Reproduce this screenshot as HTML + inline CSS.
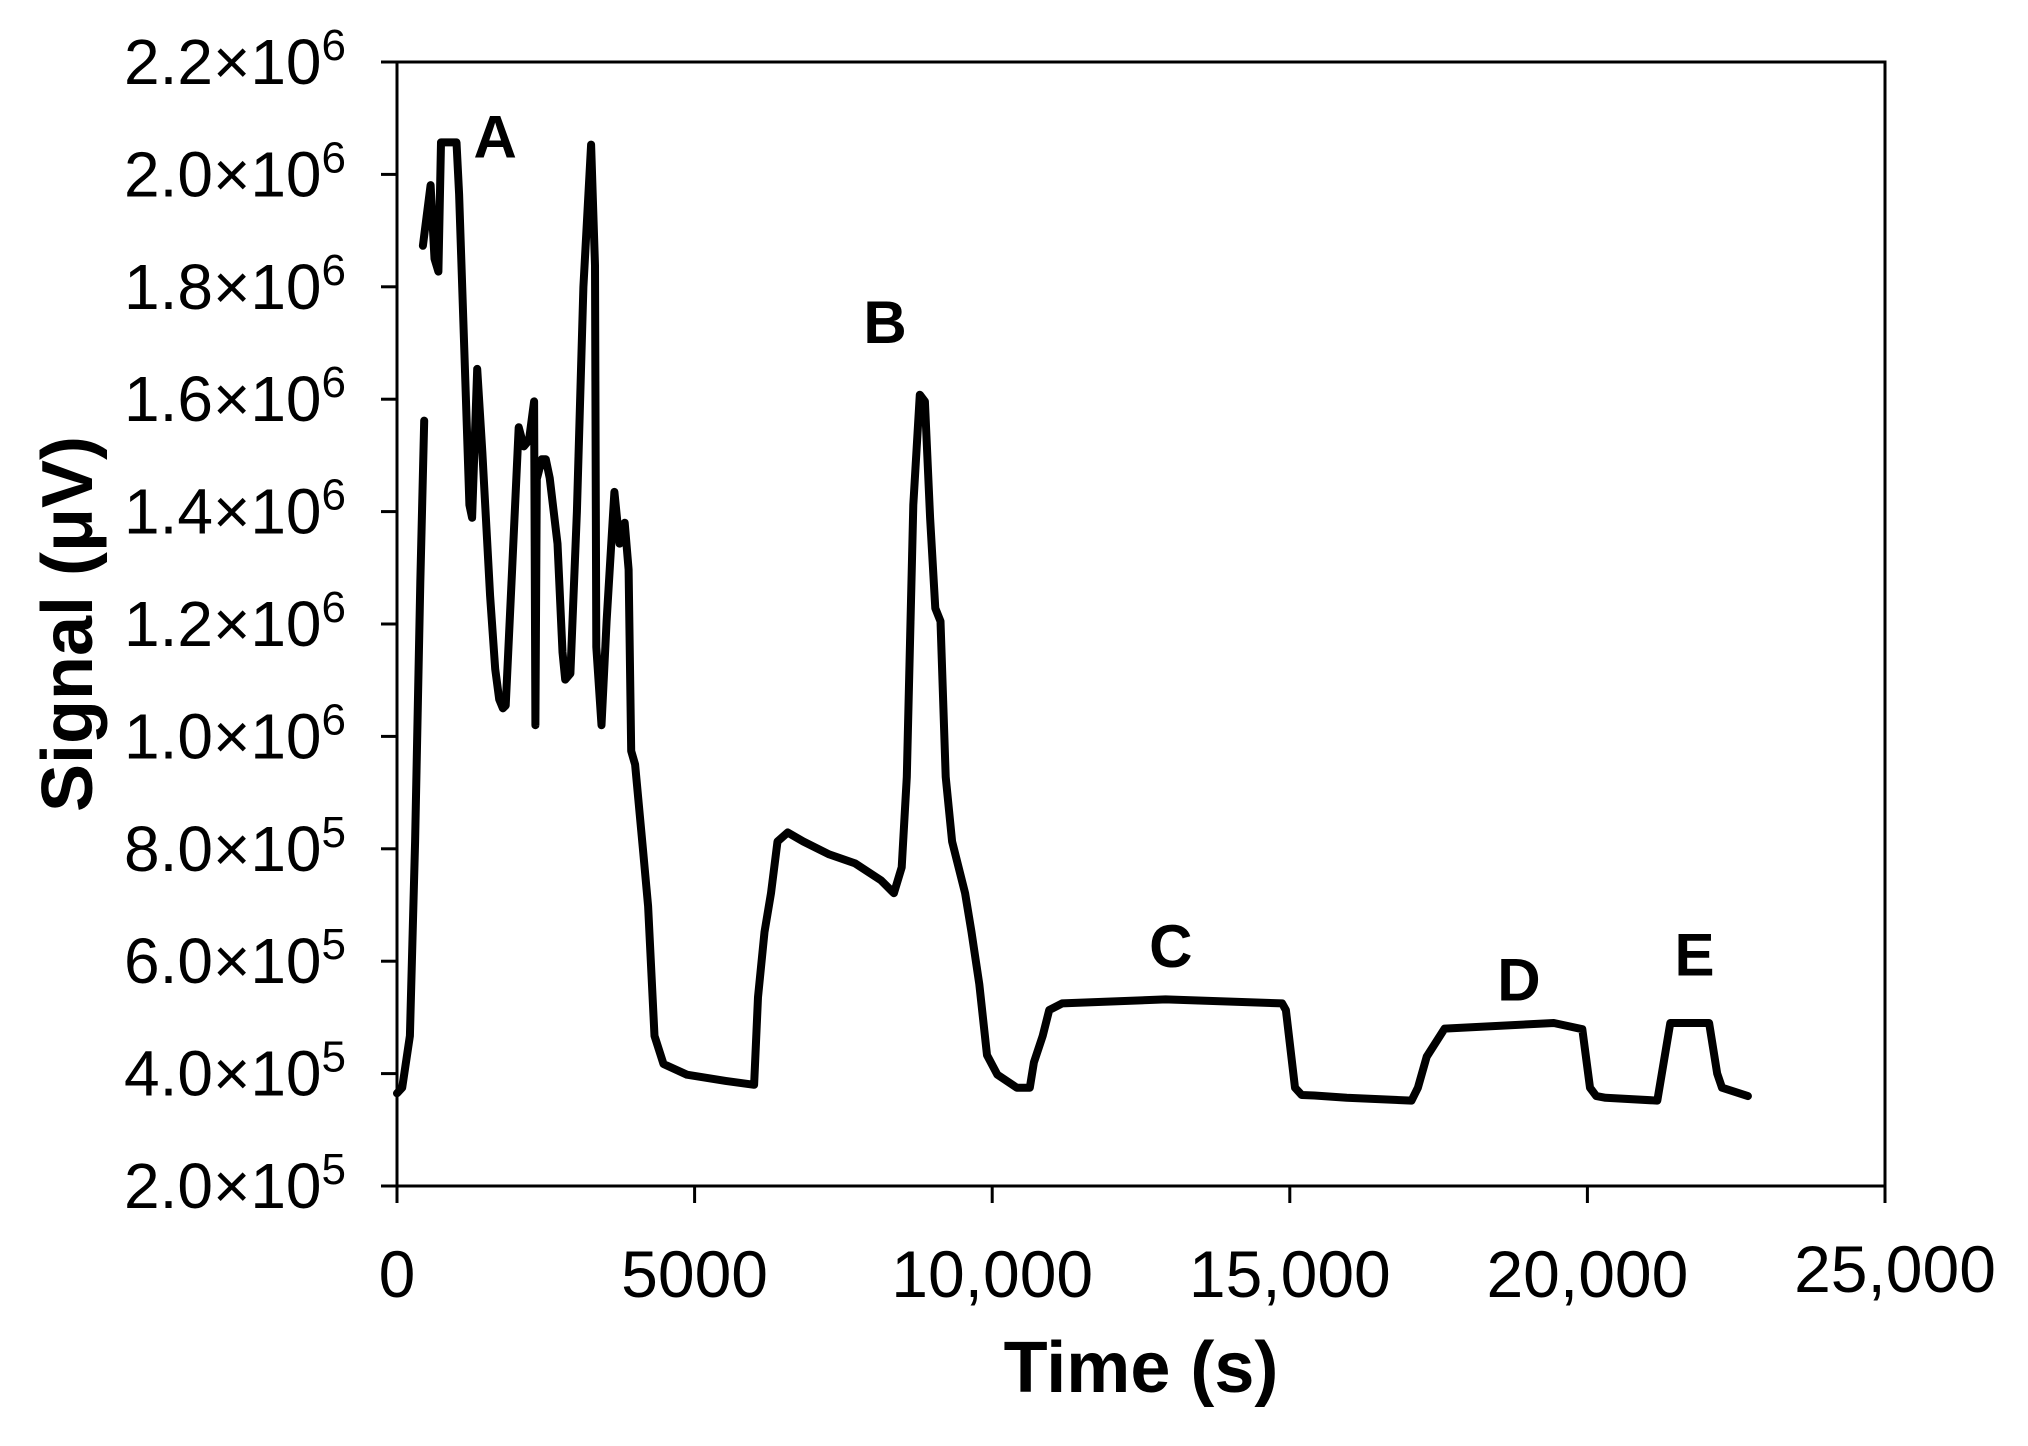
<!DOCTYPE html>
<html><head><meta charset="utf-8"><style>
html,body{margin:0;padding:0;background:#fff;}
svg{display:block;font-family:"Liberation Sans",Arial,sans-serif;}
</style></head><body>
<svg id="chart" width="2028" height="1446" viewBox="0 0 2028 1446" xmlns="http://www.w3.org/2000/svg">
<rect width="2028" height="1446" fill="#fff"/>
<g id="plot"></g>
</svg>
<script>
const xTicks = [0, 5000, 10000, 15000, 20000, 25000];
const xTickLabels = ["0", "5000", "10,000", "15,000", "20,000", "25,000"];
const yTicks = [2, 4, 6, 8, 10, 12, 14, 16, 18, 20, 22];
const yTickMant = ["2.0","4.0","6.0","8.0","1.0","1.2","1.4","1.6","1.8","2.0","2.2"];
const yTickExp = ["5","5","5","5","6","6","6","6","6","6","6"];
// time (s)
const times1 = [0, 87, 217, 304, 391, 457];
const signal1 = [3.65, 3.75, 4.67, 8.13, 12.74, 15.62];
const times2 = [435,565,630,696,739,1000,1044,1130,1217,1261,1348,1435,1565,1650,1717,1780,1826,1935,2044,2131,2217,2304,2326,2348,2435,2500,2565,2696,2780,2826,2913,3022,3131,3261,3326,3348,3435,3522,3652,3739,3826,3891,3935,4000,4131,4218,4326,4478,4870,5522,6000,6065,6174,6283,6392,6565,6826,7261,7696,8131,8348,8479,8566,8674,8783,8870,8957,9044,9131,9218,9326,9544,9653,9783,9913,10087,10413,10631,10700,10848,10957,11174,12914,14870,14935,15088,15200,15414,15957,17044,17153,17300,17600,19436,19914,20044,20150,20305,21175,21392,21544,22044,22180,22262,22697];
const signal2 = [18.73,19.81,18.5,18.27,20.57,20.57,19.65,16.88,14.12,13.89,16.54,15.04,12.5,11.2,10.66,10.5,10.55,13.0,15.5,15.16,15.27,15.96,10.2,14.58,14.93,14.93,14.6,13.43,11.5,11.01,11.12,14.0,18.0,20.53,18.38,11.59,10.2,12.05,14.35,13.43,13.8,12.97,9.74,9.5,8.0,6.98,4.67,4.17,3.98,3.87,3.8,5.36,6.52,7.21,8.13,8.29,8.13,7.9,7.74,7.44,7.21,7.67,9.28,14.12,16.08,15.96,13.89,12.28,12.05,9.28,8.13,7.21,6.52,5.59,4.33,3.98,3.75,3.75,4.2,4.67,5.13,5.25,5.32,5.25,5.13,3.75,3.62,3.61,3.57,3.52,3.75,4.3,4.8,4.9,4.79,3.75,3.6,3.57,3.52,4.9,4.9,4.9,4.0,3.75,3.6];
const letterNames = ["A","B","C","D","E"];
const letterT = [1650, 8200, 13000, 18850, 21800];
const letterV = [20.3, 17.0, 5.9, 5.3, 5.75];

const X0=397, X1=1885, Y0=1186, Y1=62;
const xs = t => X0 + (t-0)/25000*(X1-X0);
const ys = v => Y0 - (v-2)/20*(Y0-Y1);
const NS="http://www.w3.org/2000/svg";
const g=document.getElementById('plot');
function mk(tag,attrs,parent){const e=document.createElementNS(NS,tag);for(const k in attrs)e.setAttribute(k,attrs[k]);(parent||g).appendChild(e);return e;}

const frame=mk('rect',{x:X0,y:Y1,width:X1-X0,height:Y0-Y1,fill:'none',stroke:'#000','stroke-width':3});



xTicks.forEach((t,i)=>{
  const tk=mk('line',{x1:xs(t),x2:xs(t),y1:Y0,y2:Y0+17,stroke:'#000','stroke-width':3});
  
  
  const last=i===xTicks.length-1;
  const lb=mk('text',{x:xs(t)+(last?10:0),y:last?1292:1297,'text-anchor':'middle','font-size':66});
  lb.textContent=xTickLabels[i];
  
  
});
yTicks.forEach((v,i)=>{
  const tk=mk('line',{x1:X0-16,x2:X0,y1:ys(v),y2:ys(v),stroke:'#000','stroke-width':3});
  
  
  const lb=mk('text',{x:346,y:ys(v)+22,'text-anchor':'end','font-size':64});
  
  
  const a=document.createElementNS(NS,'tspan');a.textContent=yTickMant[i]+'×10';lb.appendChild(a);
  const b=document.createElementNS(NS,'tspan');b.setAttribute('dy','-24');b.setAttribute('font-size','44');b.textContent=yTickExp[i];lb.appendChild(b);
});

function line(T,V,name){
  const d=T.map((t,i)=>(i?'L':'M')+xs(t).toFixed(1)+','+ys(V[i]).toFixed(1)).join(' ');
  const p=mk('path',{d:d,fill:'none',stroke:'#000','stroke-width':8,'stroke-linejoin':'round','stroke-linecap':'round'});
  
  
}
line(times1,signal1,'signal-trace-start');
line(times2,signal2,'signal-trace');

letterNames.forEach((n,i)=>{
  const t=mk('text',{x:xs(letterT[i]),y:ys(letterV[i]),'text-anchor':'middle','font-size':60,'font-weight':'bold'});
  t.textContent=n;
  
  
});

const xt=mk('text',{x:1141,y:1392,'text-anchor':'middle','font-size':72,'font-weight':'bold'});
xt.textContent='Time (s)';


const yt=mk('text',{x:0,y:0,'text-anchor':'middle','font-size':72,'font-weight':'bold',transform:'translate(92,624) rotate(-90)'});
yt.textContent='Signal (μV)';


</script>
</body></html>
